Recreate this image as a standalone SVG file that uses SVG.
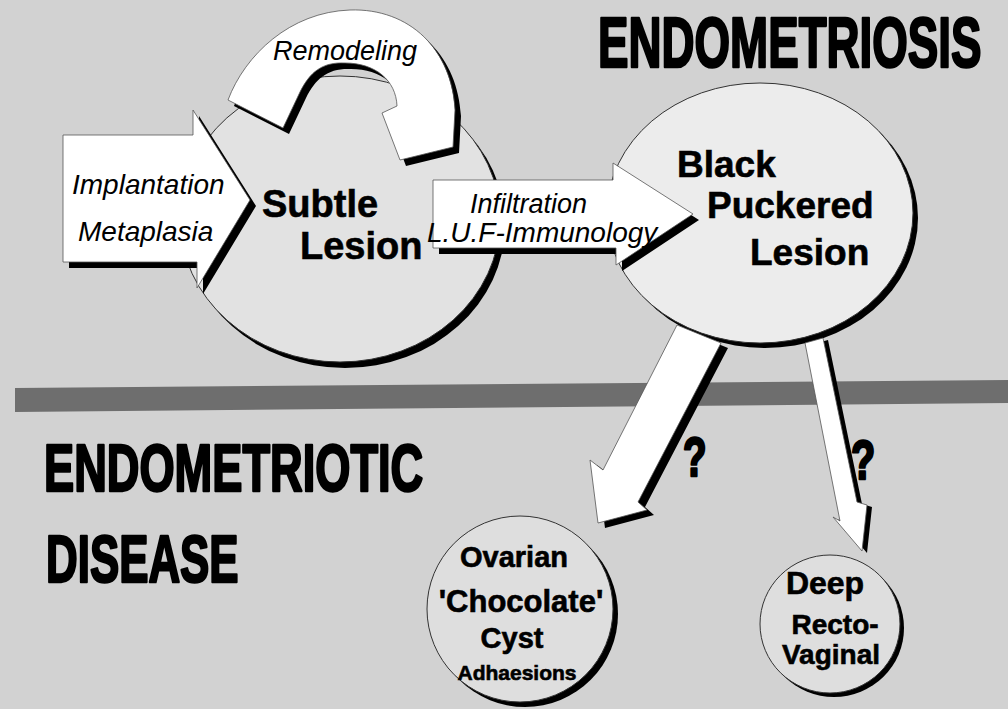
<svg xmlns="http://www.w3.org/2000/svg" width="1008" height="709" viewBox="0 0 1008 709">
<defs>
<style>
.title{font-family:"Liberation Sans",Arial,sans-serif;font-weight:bold;fill:#000;stroke:#000;stroke-width:2.6;stroke-linejoin:round}
.node{font-family:"Liberation Sans",Arial,sans-serif;font-weight:bold;fill:#000;stroke:#000;stroke-width:0.6}
.lbl{font-family:"Liberation Sans",Arial,sans-serif;font-style:italic;fill:#000}
.shadow{fill:#000}
.arrow{fill:#fff;stroke:#555;stroke-width:0.8;stroke-linejoin:round}
.disc{stroke:#333;stroke-width:1}
</style>
</defs>
<rect width="1008" height="709" fill="#d2d2d2"/>
<polygon id="divider" points="15,388 1008,380 1008,403 15,412" fill="#6e6e6e"/>
<g id="titles">
<text class="title" transform="translate(598,67) scale(0.644,1)" font-size="71">ENDOMETRIOSIS</text>
<text class="title" transform="translate(44,491) scale(0.675,1)" font-size="67">ENDOMETRIOTIC</text>
<text class="title" transform="translate(46,582) scale(0.655,1)" font-size="67">DISEASE</text>
</g>
<g id="node-subtle">
<ellipse cx="345" cy="225" rx="160" ry="143" class="shadow"/>
<ellipse cx="340" cy="219" rx="160" ry="143" fill="#e2e2e2" class="disc"/>
<text class="node" font-size="38" x="262" y="217">Subtle</text>
<text class="node" font-size="38" x="300" y="259">Lesion</text>
</g>
<g id="node-black">
<ellipse cx="765" cy="218" rx="153" ry="130" class="shadow"/>
<ellipse cx="760" cy="213" rx="153" ry="130" fill="#ececec" class="disc"/>
<text class="node" font-size="37" x="677" y="177">Black</text>
<text class="node" font-size="37" x="707" y="218">Puckered</text>
<text class="node" font-size="37" x="750" y="265">Lesion</text>
</g>
<g id="node-ovarian">
<ellipse cx="525" cy="614" rx="93" ry="93" class="shadow"/>
<ellipse cx="520" cy="609" rx="93" ry="93" fill="#dedede" class="disc"/>
<text class="node" font-size="29" x="514" y="567" text-anchor="middle">Ovarian</text>
<text class="node" font-size="31" x="521" y="612" text-anchor="middle">'Chocolate'</text>
<text class="node" font-size="29" x="512" y="648" text-anchor="middle">Cyst</text>
<text class="node" font-size="21" x="517" y="680" text-anchor="middle">Adhaesions</text>
</g>
<g id="node-deep">
<ellipse cx="834" cy="628" rx="70" ry="69" class="shadow"/>
<ellipse cx="830" cy="624" rx="70" ry="69" fill="#dedede" class="disc"/>
<text class="node" font-size="32" x="825" y="594" text-anchor="middle">Deep</text>
<text class="node" font-size="28" x="835" y="634" text-anchor="middle">Recto-</text>
<text class="node" font-size="28" x="831" y="664" text-anchor="middle">Vaginal</text>
</g>
<g id="connectors">
<g id="arrow-remodeling">
<path transform="translate(6,6)" class="shadow" d="M228,100 C245,55 290,12 350,10 C410,8 452,50 455,110 L453,147 L400,160 L382,113 L397,106 C396,80 375,63 345,63 C322,62 310,72 300,92 L283,128 Z"/>
<path class="arrow" d="M228,100 C245,55 290,12 350,10 C410,8 452,50 455,110 L453,147 L400,160 L382,113 L397,106 C396,80 375,63 345,63 C322,62 310,72 300,92 L283,128 Z"/>
<text class="lbl" font-size="27" x="273" y="60">Remodeling</text>
</g>
<g id="arrow-implantation">
<polygon transform="translate(6,6)" class="shadow" points="63,135 193,135 193,110 250,200 197,288 197,262 63,262"/>
<polygon class="arrow" points="63,135 193,135 193,110 250,200 197,288 197,262 63,262"/>
<text class="lbl" font-size="28" x="72" y="194">Implantation</text>
<text class="lbl" font-size="28" x="78" y="241">Metaplasia</text>
</g>
<g id="arrow-infiltration">
<polygon transform="translate(6,6)" class="shadow" points="433,180 613,180 613,163 693,214 616,265 616,248 433,248"/>
<polygon class="arrow" points="433,180 613,180 613,163 693,214 616,265 616,248 433,248"/>
<text class="lbl" font-size="27" x="470" y="213">Infiltration</text>
<text class="lbl" font-size="28" x="427" y="242">L.U.F-Immunology</text>
</g>
<g id="arrow-ovarian">
<polygon transform="translate(7,5)" class="shadow" points="677,325 721,343 638,502 647,510 598,523 590,460 603,470"/>
<polygon class="arrow" points="677,325 721,343 638,502 647,510 598,523 590,460 603,470"/>
<text class="title" transform="translate(683,476) scale(0.7,1)" font-size="55">?</text>
</g>
<g id="arrow-deep">
<polygon transform="translate(5,2)" class="shadow" points="805,343 823,338 857,502 867,505 862,551 833,517 840,521"/>
<polygon class="arrow" points="805,343 823,338 857,502 867,505 862,551 833,517 840,521"/>
<text class="title" transform="translate(851,479) scale(0.72,1)" font-size="55">?</text>
</g>
</g>
</svg>
